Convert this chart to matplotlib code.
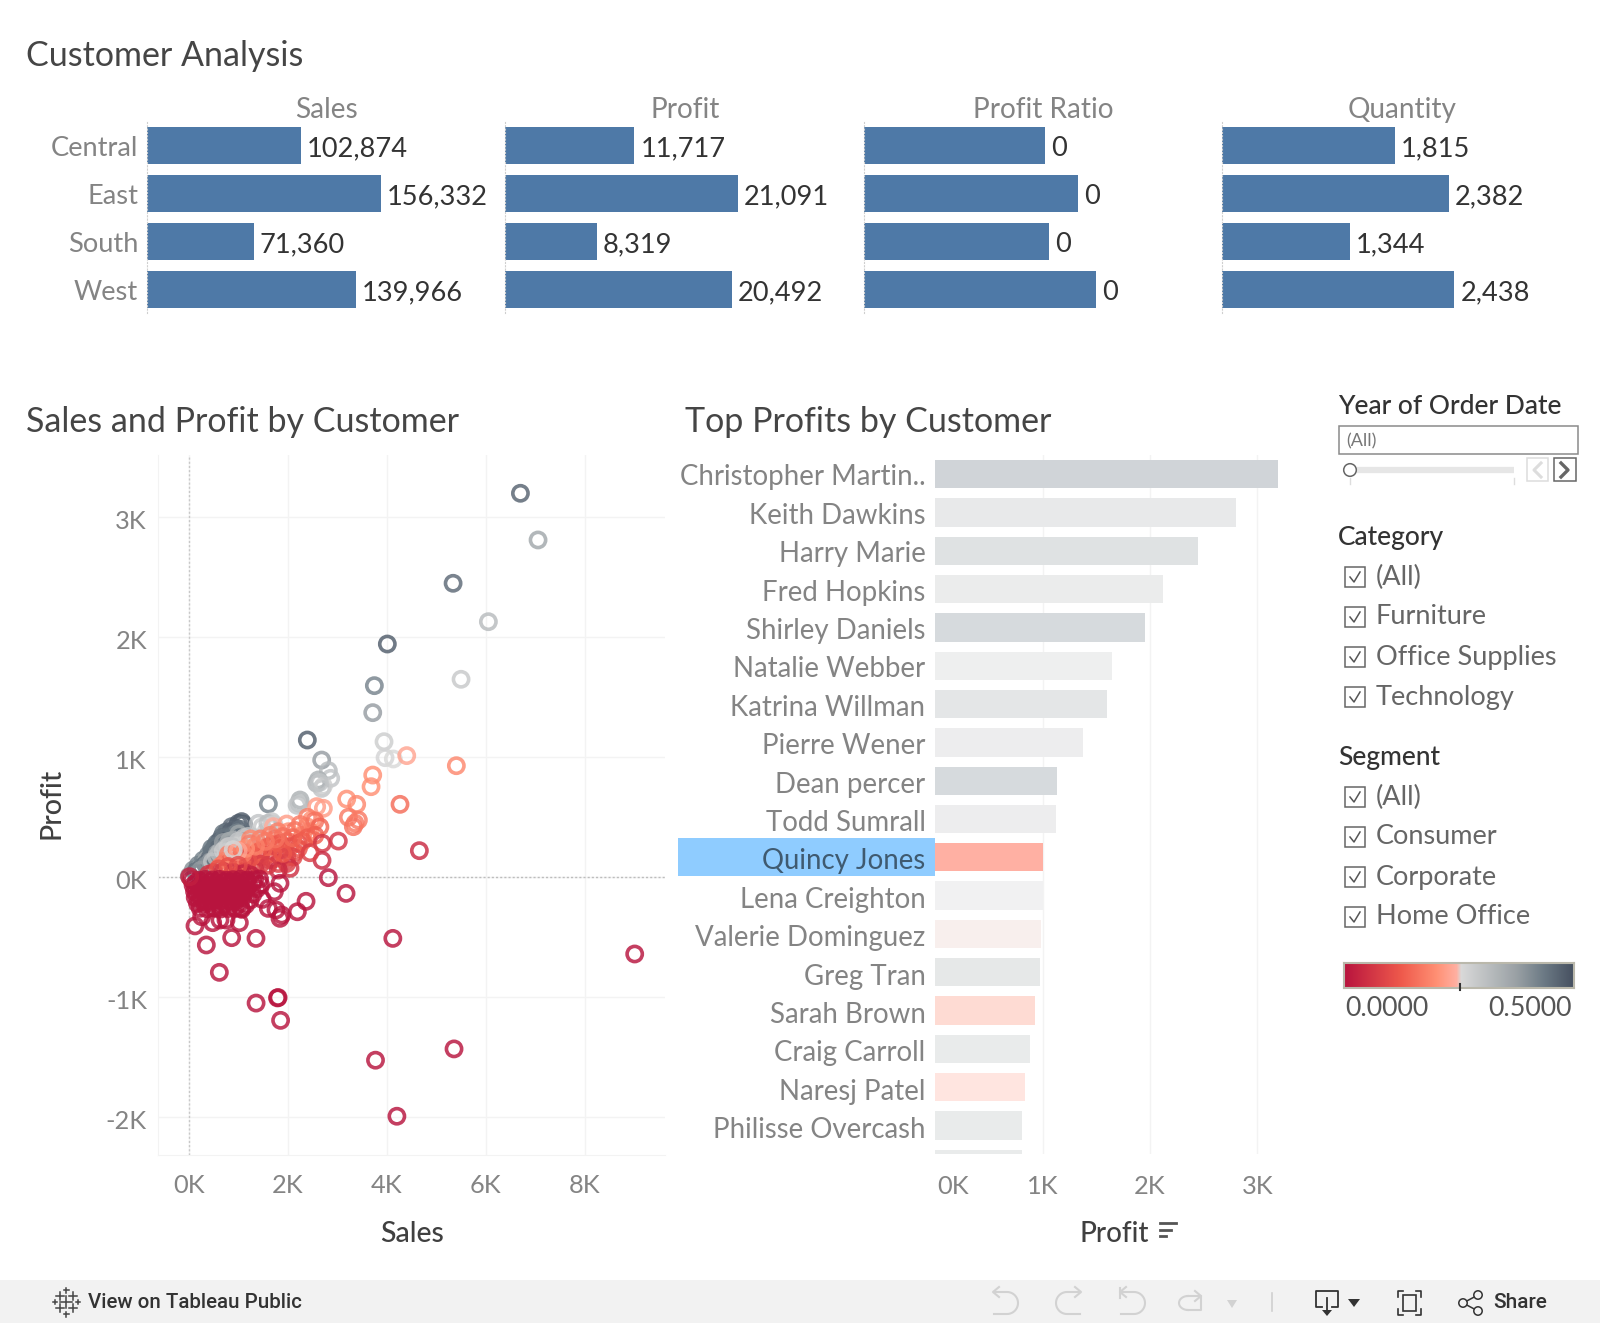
import numpy as np
import matplotlib
matplotlib.use("Agg")
import matplotlib.pyplot as plt
from matplotlib.colors import LinearSegmentedColormap, Normalize, to_rgb
from matplotlib.patches import Rectangle, Circle, Polygon
from matplotlib.transforms import ScaledTranslation

W, H = 1600, 1323
plt.rcParams['font.family'] = ['Lato', 'DejaVu Sans']

# regional summary
regions = ["Central", "East", "South", "West"]
region_sales = [102874, 156332, 71360, 139966]
region_profit = [11717, 21091, 8319, 20492]
region_ratio = [0.1139, 0.1349, 0.1166, 0.1464]
region_quantity = [1815, 2382, 1344, 2438]

# top customers by profit
top_names = ["Christopher Martin..", "Keith Dawkins", "Harry Marie", "Fred Hopkins",
             "Shirley Daniels", "Natalie Webber", "Katrina Willman", "Pierre Wener",
             "Dean percer", "Todd Sumrall", "Quincy Jones", "Lena Creighton",
             "Valerie Dominguez", "Greg Tran", "Sarah Brown", "Craig Carroll",
             "Naresj Patel", "Philisse Overcash", ""]
top_profit = [3187, 2797, 2446, 2122, 1953, 1650, 1600, 1375, 1137, 1126,
              1005, 1001, 986, 977, 930, 884, 837, 809, 809]
top_ratio = [0.45, 0.33, 0.38, 0.31, 0.42, 0.29, 0.35, 0.30, 0.42, 0.30,
             0.245, 0.27, 0.25, 0.34, 0.19, 0.32, 0.235, 0.32, 0.32]
highlighted = "Quincy Jones"

# customers, greys first so the reds end up on top
cust_sales = [
    6700, 7056, 5340, 6053, 4012, 5501, 3750, 3717, 2396, 3945, 3966, 4133,
    2686, 2821, 2868, 2619, 2585, 2686, 2720, 2640, 1609, 2248, 2235, 2190,
    93, 194, 295, 396, 464, 565, 666, 767, 868, 1003, 1104, 1070, 700, 834, 632, 531, 363, 228, 13,
    150, 260, 340, 430, 510, 590, 700, 780, 850, 950, 1040, 480, 620, 540, 900, 980, 720, 820, 680, 580, 440, 360, 250, 170,
    620, 740, 900, 1010, 560, 480, 700, 820,
    1407, 1676, 1676, 800, 700, 1238, 1373, 1036, 1120, 950,
    1200, 1300, 1480, 1560, 1150, 1000, 860, 760, 1600, 1720,
    4404, 5406, 3717, 3683, 1710, 1979, 2013, 2383, 2484, 2585, 2720, 2450, 2300,
    3191, 3393, 3225, 3427, 3326, 3360, 4268,
    1800, 1900, 2150, 2250, 2400, 2550, 2000, 1650, 1450, 1250, 1700, 1850, 2400, 2550, 2650,
    1050, 800, 700, 1150, 1400, 1550, 1700, 1950, 2150, 1250,
    632, 1003, 850, 1238, 1440, 1610, 1844, 2046, 2215, 2215, 1979, 1810, 1979, 2113,
    1642, 1373, 1171, 1036, 1340, 2046, 1810, 1700, 1500, 1300, 1100, 900, 760, 1600,
    1900, 2100, 2300, 1450, 1200, 1750, 1550, 1350, 1150, 1000, 900,
    500, 700, 900, 1100, 1250, 400, 800, 1000, 600,
    3022, 2700, 2693, 2450, 2820, 4659, 3178,
    60, 205, 335, 485, 615, 765, 895, 1045, 1175, 1330,
    90, 228, 372, 505, 655, 788, 935, 1065, 1212,
    118, 262, 396, 545, 676, 824, 955, 1104, 1165,
    132, 268, 414, 548, 694, 826, 972, 1085,
    178, 324, 458, 604, 736, 884, 1018,
    232, 366, 514, 648, 794, 932,
    1300, 1430, 1450, 1380, 1300, 1240, 1150, 1060,
    150, 290, 440, 570, 720, 860, 1000, 1140,
    170, 320, 470, 610, 750, 890, 1030, 1170,
    190, 340, 480, 620, 760, 900, 1030,
    220, 360, 500, 650, 800, 950,
    1844, 1730, 1487, 1608, 1763, 1844, 1878, 2370, 2195, 1359, 868, 1023,
    356, 127, 619, 484, 632, 753, 262, 1070,
    1361, 1794, 1806, 1856, 3773, 5359, 4205, 4123, 9008, 20,
]
cust_profit = [
    3200, 2811, 2450, 2130, 1944, 1650, 1597, 1372, 1144, 1130, 997, 986,
    977, 889, 825, 811, 783, 741, 760, 790, 611, 644, 616, 600,
    61, 102, 144, 186, 241, 283, 333, 380, 422, 450, 444, 464, 366, 352, 255, 214, 144, 75, 11,
    50, 85, 110, 160, 195, 240, 290, 330, 380, 410, 400, 220, 300, 260, 350, 370, 330, 300, 240, 200, 130, 100, 60, 30,
    205, 240, 310, 360, 170, 130, 290, 300,
    450, 464, 408, 255, 220, 297, 311, 283, 330, 260,
    340, 290, 420, 380, 280, 300, 260, 210, 450, 440,
    1014, 930, 852, 755, 422, 444, 380, 422, 478, 589, 575, 380, 350,
    652, 608, 500, 477, 422, 450, 608,
    380, 340, 390, 440, 500, 470, 300, 350, 320, 320, 270, 240, 330, 350, 420,
    170, 190, 110, 160, 210, 180, 150, 140, 210, 100,
    89, 130, 120, 280, 170, 255, 283, 255, 283, 240, 170, 115, 115, 170,
    144, 116, 89, 61, 61, 75, 60, 200, 230, 180, 200, 170, 140, 100,
    200, 330, 300, 110, 140, 320, 300, 260, 240, 220, 230,
    40, 50, 40, 30, 20, 25, 90, 100, 70,
    302, 283, 141, 205, -3, 222, -134,
    -20, -24, -18, -22, -17, -25, -20, -16, -24, -20,
    -68, -72, -66, -74, -70, -65, -73, -69, -71,
    -118, -122, -116, -124, -120, -115, -123, -119, -117,
    -168, -172, -166, -174, -170, -165, -173, -169,
    -218, -222, -216, -224, -220, -215, -223,
    -258, -262, -256, -264, -260, -255,
    -45, -15, -60, -95, -140, -190, -230, -260,
    -45, -47, -43, -46, -44, -47, -42, -46,
    -95, -97, -93, -96, -94, -97, -92, -95,
    -145, -147, -143, -146, -144, -147, -142,
    -195, -197, -193, -196, -194, -197,
    -50, -120, -184, -259, -272, -342, -314, -200, -287, -509, -503, -378,
    -564, -405, -792, -378, -356, -356, -328, -267,
    -1048, -1005, -1002, -1192, -1524, -1430, -1991, -509, -639, 5,
]
cust_ratio = [
    0.47, 0.36, 0.46, 0.32, 0.48, 0.29, 0.42, 0.38, 0.48, 0.28, 0.265, 0.255,
    0.38, 0.32, 0.30, 0.34, 0.33, 0.30, 0.28, 0.30, 0.42, 0.34, 0.32, 0.30,
    0.40, 0.42, 0.42, 0.42, 0.44, 0.44, 0.46, 0.46, 0.46, 0.48, 0.46, 0.48, 0.44, 0.40, 0.38, 0.38, 0.36, 0.36, 0.38,
    0.45, 0.44, 0.44, 0.46, 0.45, 0.46, 0.46, 0.47, 0.47, 0.47, 0.45, 0.44, 0.46, 0.44, 0.44, 0.42, 0.44, 0.40, 0.40, 0.38, 0.38, 0.40, 0.38, 0.40,
    0.32, 0.32, 0.34, 0.36, 0.32, 0.30, 0.38, 0.36,
    0.30, 0.29, 0.27, 0.28, 0.28, 0.27, 0.26, 0.27, 0.29, 0.27,
    0.30, 0.28, 0.29, 0.28, 0.27, 0.30, 0.30, 0.28, 0.31, 0.28,
    0.23, 0.19, 0.20, 0.20, 0.24, 0.22, 0.20, 0.20, 0.20, 0.22, 0.22, 0.19, 0.18,
    0.20, 0.19, 0.17, 0.17, 0.16, 0.17, 0.15,
    0.18, 0.16, 0.16, 0.17, 0.18, 0.16, 0.14, 0.18, 0.17, 0.19, 0.14, 0.12, 0.13, 0.13, 0.14,
    0.14, 0.18, 0.13, 0.12, 0.13, 0.11, 0.09, 0.08, 0.10, 0.09,
    0.18, 0.15, 0.13, 0.17, 0.11, 0.13, 0.12, 0.11, 0.11, 0.11, 0.09, 0.08, 0.08, 0.09,
    0.08, 0.08, 0.09, 0.07, 0.05, 0.05, 0.04, 0.12, 0.14, 0.13, 0.17, 0.18, 0.18, 0.07,
    0.12, 0.15, 0.13, 0.08, 0.11, 0.16, 0.17, 0.18, 0.20, 0.23, 0.26,
    0.08, 0.07, 0.05, 0.03, 0.02, 0.06, 0.11, 0.10, 0.11,
    0.06, 0.06, 0.04, 0.08, 0.0, 0.04, 0.0,
    0, 0, 0, 0, 0, 0, 0, 0, 0, 0,
    0, 0, 0, 0, 0, 0, 0, 0, 0,
    0, 0, 0, 0, 0, 0, 0, 0, 0,
    0, 0, 0, 0, 0, 0, 0, 0,
    0, 0, 0, 0, 0, 0, 0,
    0, 0, 0, 0, 0, 0,
    0, 0, 0, 0, 0, 0, 0, 0,
    0, 0, 0, 0, 0, 0, 0, 0,
    0, 0, 0, 0, 0, 0, 0, 0,
    0, 0, 0, 0, 0, 0, 0,
    0, 0, 0, 0, 0, 0,
    0, 0, 0, 0, 0, 0, 0, 0, 0, 0, 0, 0,
    0, 0, 0, 0, 0, 0, 0, 0,
    0, 0, 0, 0, 0, 0, 0, 0, 0, 0.02,
]
ratio_min, ratio_max = 0.0, 0.5

category_items = ["(All)", "Furniture", "Office Supplies", "Technology"]
segment_items = ["(All)", "Consumer", "Corporate", "Home Office"]

ratio_cmap = LinearSegmentedColormap.from_list("ratio", [
    (0.0, "#b8143e"), (0.25, "#ef5a4c"), (0.40, "#ff8f73"), (0.49, "#ffb0a2"),
    (0.51, "#d9d9d9"), (0.75, "#9aa1a5"), (0.87, "#6c7a85"), (1.0, "#465060")])
ratio_norm = Normalize(ratio_min, ratio_max)

GRID = "#f3f3f3"
TICK = "#848484"
DARK = "#333333"
BAR_BLUE = "#4e79a7"
TEXT_DROP = 3  # Lato sits high in its line box


fig = plt.figure(figsize=(W / 100, H / 100), dpi=100, facecolor="white")


def px_axes(left, top, right, bottom):
    ax = fig.add_axes([left / W, 1 - bottom / H, (right - left) / W, (bottom - top) / H])
    ax.patch.set_alpha(0)
    return ax


# page furniture lives on a full-figure axes in pixel units
ui = px_axes(0, 0, W, H)
ui.set_xlim(0, W)
ui.set_ylim(H, 0)
ui.axis("off")


def label(x, y, s, size=19, color=TICK, ha="left", **kw):
    ui.text(x, y + TEXT_DROP, s, fontsize=size, color=color, ha=ha, va="center", **kw)


def nudge(text, dx, dy):
    # shift a tick label by some pixels
    text.set_transform(text.get_transform() + ScaledTranslation(dx / 100, -dy / 100, fig.dpi_scale_trans))


def fade(color, amount=0.3):
    r = np.array(to_rgb(color))
    return tuple(1 - amount * (1 - r))


label(26, 53, "Customer Analysis", size=24.5, color="#454545")
label(26, 419, "Sales and Profit by Customer", size=24.5, color="#454545")
label(685, 419, "Top Profits by Customer", size=24.5, color="#454545")

# four small bar panels
panels = [
    ("Sales", region_sales, 147, 0.001494, 326, "{:,.0f}"),
    ("Profit", region_profit, 504.5, 0.01108, 685, "{:,.0f}"),
    ("Profit Ratio", region_ratio, 864, 1586, 1043, "{:.0f}"),
    ("Quantity", region_quantity, 1222, 0.0953, 1402, "{:,.0f}"),
]
for head, vals, x0, scale, head_x, fmt in panels:
    ax = px_axes(x0, 122, x0 + 343, 313)
    ax.set_xlim(0, 343 / scale)
    ax.set_ylim(3.48, -0.498)
    ax.barh(range(len(vals)), vals, height=0.77, color=BAR_BLUE, edgecolor="none")
    for i, v in enumerate(vals):
        ax.annotate(fmt.format(v), (v, i), xytext=(6 * 0.72, -2), textcoords="offset points",
                    fontsize=19.6, color=DARK, va="center")
    ax.set_xticks([])
    ax.set_yticks([])
    for side in ["top", "right", "bottom"]:
        ax.spines[side].set_visible(False)
    ax.spines["left"].set_color("#cfcfcf")
    ax.spines["left"].set_linestyle((0, (1, 2)))
    ax.spines["left"].set_linewidth(0.8)
    label(head_x, 107, head, size=20.2, ha="center")
for i, r in enumerate(regions):
    label(138, 145.5 + 48 * i, r, size=19.6, ha="right")

# sales vs profit scatter
ax = px_axes(158, 455, 665, 1155)
ax.set_xlim(-620, 9620)
ax.set_ylim(-2314, 3519)
ax.set_xticks([0, 2000, 4000, 6000, 8000])
ax.set_xticklabels(["0K", "2K", "4K", "6K", "8K"])
ax.set_yticks([-2000, -1000, 0, 1000, 2000, 3000])
ax.set_yticklabels(["-2K", "-1K", "0K", "1K", "2K", "3K"])
ax.tick_params(length=0, labelsize=18.3, labelcolor=TICK)
ax.tick_params(axis="x", pad=14)
ax.tick_params(axis="y", pad=8)
for t in ax.get_yticklabels():
    nudge(t, 0, 2)
ax.grid(color=GRID, lw=1)
ax.set_axisbelow(True)
for side in ["top", "right"]:
    ax.spines[side].set_visible(False)
for side in ["left", "bottom"]:
    ax.spines[side].set_color(GRID)
ax.axhline(0, color="#bdbdbd", lw=1, ls=(0, (1.5, 1.5)), zorder=1)
ax.axvline(0, color="#c8c8c8", lw=1, ls=(0, (1.5, 1.5)), zorder=1)
ax.scatter(cust_sales, cust_profit, s=120, facecolors="none", linewidths=2.6, alpha=0.82,
           edgecolors=ratio_cmap(ratio_norm(np.array(cust_ratio))), zorder=3, clip_on=False)
label(412, 1231, "Sales", size=20.5, color="#404040", ha="center", fontweight="medium")
label(51, 800, "Profit", size=20.5, color="#404040", ha="center", rotation=90, fontweight="medium")

# top customers bars
ax = px_axes(935, 455, 1290, 1153.7)
ax.set_xlim(0, 355 / 0.1075)
# row pitch 38.3 px, first row centred 19.3 px below the top edge
ax.set_ylim((1153.7 - 455 - 19.3) / 38.3, -19.3 / 38.3)
ui.add_patch(Rectangle((678, 838), 257, 38, color="#8fccff", lw=0))
for i, name in enumerate(top_names):
    col = ratio_cmap(ratio_norm(top_ratio[i]))
    ax.barh(i, top_profit[i], height=0.74, color=col if name == highlighted else fade(col),
            edgecolor="none", zorder=3)
    label(925.5, 474.3 + 38.4 * i, name, size=19.9, ha="right",
          color="#3f5a70" if name == highlighted else TICK)
ax.set_xticks([0, 1000, 2000, 3000])
ax.set_xticklabels(["0K", "1K", "2K", "3K"])
ax.set_yticks([])
ax.tick_params(length=0, labelsize=18.3, labelcolor=TICK)
ax.tick_params(axis="x", pad=15)
ax.get_xticklabels()[0].set_ha("left")
nudge(ax.get_xticklabels()[0], 2, 0)
ax.grid(axis="x", color=GRID, lw=1)
ax.xaxis.get_gridlines()[0].set_visible(False)
ax.set_axisbelow(True)
for sp in ax.spines.values():
    sp.set_visible(False)
label(1114, 1231, "Profit", size=20, color="#404040", ha="center", fontweight="medium")
for y, x1 in [(1223, 1176), (1230, 1171), (1236, 1166)]:
    ui.plot([1160, x1], [y, y], color="#555555", lw=2)

# filters
label(1338, 404, "Year of Order Date", size=19, color=DARK, fontweight="medium")
ui.add_patch(Rectangle((1339, 426), 239, 28, fc="white", ec="#8a8a8a", lw=1.1))
label(1346, 438, "(All)", size=13, color="#777777")
ui.plot([1350, 1514], [470, 470], color="#e6e6e6", lw=4.5, solid_capstyle="butt")
ui.plot([1514, 1514], [478, 484], color="#dddddd", lw=1)
ui.plot([1350, 1350], [478, 484], color="#dddddd", lw=1)
ui.add_patch(Circle((1350, 470), 6.3, fc="white", ec="#666666", lw=1.1, zorder=4))
ui.add_patch(Rectangle((1527, 458), 21, 23, fc="white", ec="#dddddd", lw=1.1))
ui.plot([1541, 1534, 1541], [463, 470, 477], color="#dddddd", lw=2.2)
ui.add_patch(Rectangle((1554, 458), 22, 23, fc="white", ec="#666666", lw=1.1))
ui.plot([1561, 1568, 1561], [463, 470, 477], color="#666666", lw=2.4)


def check_list(head, head_y, items, first_y, pitch):
    label(1338, head_y, head, size=19, color=DARK, fontweight="medium")
    for i, it in enumerate(items):
        y = first_y + pitch * i
        ui.add_patch(Rectangle((1345, y - 10), 20, 20, fc="white", ec="#666666", lw=1.1))
        ui.plot([1350, 1354, 1360], [y, y + 5, y - 5], color="#555555", lw=1.1)
        label(1376, y - 3, it, size=19.5, color="#666666")


check_list("Category", 534, category_items, 577, 40)
check_list("Segment", 754, segment_items, 797, 40)

# colour legend
leg = px_axes(1344, 963, 1574, 988)
leg.imshow(np.linspace(0, 1, 256)[None, :], cmap=ratio_cmap, aspect="auto", extent=[0, 1, 0, 1])
leg.plot([0.504, 0.504], [0.16, -0.08], color="#333333", lw=1.5, clip_on=False, zorder=5)
leg.set_xlim(0, 1)
leg.set_ylim(0, 1)
leg.set_xticks([])
leg.set_yticks([])
for sp in leg.spines.values():
    sp.set_color("#bab8ab")
    sp.set_linewidth(1.5)
label(1345, 1006, f"{ratio_min:.4f}", size=19.3, color="#555555")
label(1572, 1006, f"{ratio_max:.4f}", size=19.3, color="#555555", ha="right")

# toolbar along the bottom
ui.add_patch(Rectangle((0, 1280), W, 43, color="#f2f2f2", lw=0))
label(88, 1300, "View on Tableau Public", size=14.8, color="#333333",
      family=["Roboto", "DejaVu Sans"], fontweight="medium")
label(1493, 1300, "Share", size=15, color="#333333",
      family=["Roboto", "DejaVu Sans"], fontweight="medium")


def plus(cx, cy, r, lw=1.3):
    ui.plot([cx - r, cx + r], [cy, cy], color="#444444", lw=lw)
    ui.plot([cx, cx], [cy - r, cy + r], color="#444444", lw=lw)


for cx, cy, r in [(66, 1302, 6), (60, 1296, 4), (73, 1296, 4), (60, 1308, 4), (73, 1308, 4),
                  (66, 1290, 2.5), (66, 1314, 2.5), (55, 1302, 2), (78, 1302, 2)]:
    plus(cx, cy, r, lw=1.1)

FADED = "#d2d2d2"
ang = np.linspace(-np.pi / 2, np.pi / 2, 30)
# undo and redo style arrows
for cx, flip in [(1005, 1), (1069, -1), (1132, 1)]:
    xs = cx + flip * (2 + 11 * np.cos(ang))
    ys = 1303 + 11 * np.sin(ang)
    ui.plot(np.r_[cx - flip * 11, xs, cx - flip * 11], np.r_[ys[0], ys, ys[-1]], color=FADED, lw=1.5)
    ui.plot([cx - flip * 6, cx - flip * 12, cx - flip * 6], [1287, 1292, 1297], color=FADED, lw=1.5)
ui.plot([1120, 1120], [1288, 1298], color=FADED, lw=1.5)
th = np.linspace(np.pi / 2, 3 * np.pi / 2, 20)
ui.plot(1188 + 9 * np.cos(th), 1303 + 7 * np.sin(th), color=FADED, lw=1.5)
ui.plot([1188, 1201, 1201, 1188], [1296, 1296, 1310, 1310], color=FADED, lw=1.5)
ui.plot([1195, 1201, 1195], [1291, 1296, 1301], color=FADED, lw=1.5)
ui.add_patch(Polygon([[1227, 1300], [1237, 1300], [1232, 1308]], color=FADED, lw=0))
ui.plot([1272, 1272], [1293, 1311], color="#d0d0d0", lw=1.2)
ui.plot([1322, 1316, 1316, 1338, 1338, 1332], [1307, 1307, 1291, 1291, 1307, 1307], color="#333333", lw=1.3)
ui.plot([1327, 1327], [1298, 1311], color="#333333", lw=1.3)
ui.add_patch(Polygon([[1322, 1310], [1332, 1310], [1327, 1316]], color="#333333", lw=0))
ui.add_patch(Polygon([[1348, 1299], [1360, 1299], [1354, 1307]], color="#333333", lw=0))
for sx, sy in [(1398, 1291), (1421, 1291), (1398, 1315), (1421, 1315)]:
    dx = 5 if sx < 1409 else -5
    dy = 6 if sy < 1303 else -6
    ui.plot([sx + dx, sx, sx], [sy, sy, sy + dy], color="#333333", lw=1.2)
ui.add_patch(Rectangle((1403, 1295), 13, 16, fc="none", ec="#333333", lw=1.2))
for end in [(1478, 1295), (1478, 1311)]:
    ui.plot([1463, end[0]], [1303, end[1]], color="#333333", lw=1.1)
for c in [(1463, 1303), (1478, 1295), (1478, 1311)]:
    ui.add_patch(Circle(c, 4.2, fc="#f2f2f2", ec="#333333", lw=1.1, zorder=4))

fig.savefig("out.png", dpi=100)
